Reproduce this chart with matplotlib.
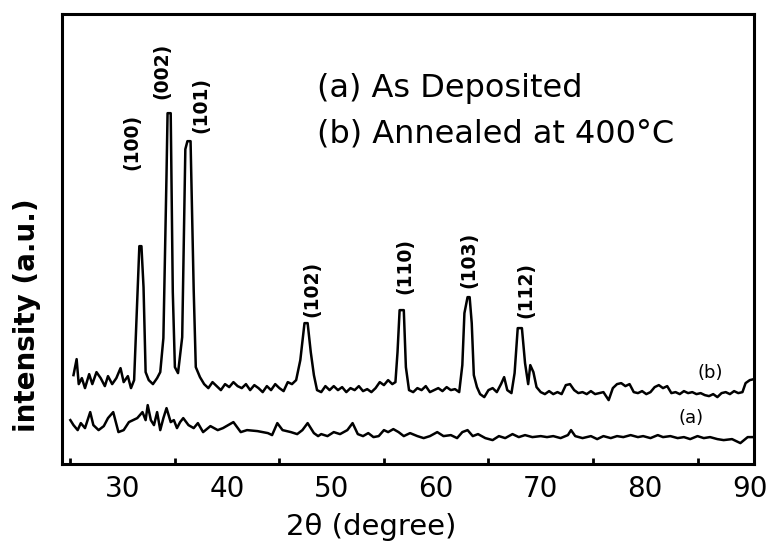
import matplotlib.pyplot as plt

######## XRD data #############################

# (b) annealed at 400 C
two_theta_b = [25.3, 25.6, 25.8, 26.1, 26.4, 26.8, 27.1, 27.5, 27.9, 28.3, 28.6, 29.0, 29.4, 29.8,
               30.1, 30.5, 30.8, 31.1, 31.4, 31.6, 31.8, 32.0, 32.2, 32.5, 32.9, 33.3, 33.6, 33.9,
               34.2, 34.3, 34.6, 34.8, 35.0, 35.3, 35.7, 36.0, 36.2, 36.5, 36.8, 37.0, 37.4, 37.8,
               38.2, 38.6, 39.0, 39.4, 39.8, 40.2, 40.6, 41.0, 41.4, 41.8, 42.2, 42.6, 43.0, 43.4,
               43.8, 44.2, 44.6, 45.0, 45.4, 45.8, 46.2, 46.6, 47.0, 47.4, 47.7, 48.0, 48.3, 48.6,
               49.0, 49.4, 49.8, 50.2, 50.6, 51.0, 51.4, 51.8, 52.2, 52.6, 53.0, 53.4, 53.8, 54.2,
               54.6, 55.0, 55.4, 55.8, 56.1, 56.3, 56.5, 56.9, 57.1, 57.4, 57.8, 58.2, 58.6, 59.0,
               59.4, 59.8, 60.2, 60.6, 61.0, 61.4, 61.8, 62.2, 62.5, 62.7, 63.0, 63.2, 63.4, 63.6,
               63.9, 64.2, 64.6, 65.0, 65.4, 65.8, 66.2, 66.5, 66.8, 67.2, 67.5, 67.8, 68.2, 68.5,
               68.8, 69.0, 69.3, 69.6, 70.0, 70.4, 70.8, 71.2, 71.6, 72.0, 72.4, 72.8, 73.2, 73.6,
               74.0, 74.4, 74.8, 75.2, 75.6, 76.0, 76.5, 76.9, 77.3, 77.7, 78.1, 78.5, 78.9, 79.3,
               79.7, 80.1, 80.5, 80.9, 81.3, 81.7, 82.1, 82.5, 82.9, 83.3, 83.7, 84.1, 84.5, 84.9,
               85.3, 85.7, 86.1, 86.5, 86.9, 87.3, 87.7, 88.1, 88.5, 88.9, 89.3, 89.6, 90.0, 90.4]
intensity_b = [89, 105, 80, 86, 76, 90, 80, 92, 86, 78, 88, 80, 86, 96,
               82, 88, 76, 84, 164, 218, 218, 177, 92, 84, 80, 86, 92, 126,
               290, 351, 351, 172, 97, 91, 127, 315, 323, 323, 174, 97, 87, 80,
               76, 82, 78, 74, 80, 77, 82, 78, 76, 80, 74, 79, 76, 72,
               78, 74, 80, 76, 73, 82, 80, 84, 104, 141, 141, 112, 89, 74,
               72, 78, 74, 78, 74, 77, 72, 76, 74, 78, 73, 75, 72, 76,
               82, 79, 84, 80, 82, 112, 154, 154, 97, 74, 72, 76, 74, 78,
               72, 74, 76, 73, 77, 74, 75, 72, 99, 151, 167, 167, 141, 89,
               77, 70, 67, 74, 76, 72, 80, 87, 74, 71, 91, 136, 136, 101,
               80, 99, 92, 77, 72, 70, 73, 70, 72, 70, 79, 80, 74, 71,
               72, 70, 73, 70, 71, 72, 64, 76, 80, 81, 78, 80, 72, 71,
               73, 70, 72, 77, 79, 76, 78, 71, 72, 70, 73, 71, 72, 70,
               71, 69, 68, 70, 67, 71, 72, 70, 73, 71, 72, 81, 84, 85]

# (a) as deposited
two_theta_a = [25.0, 25.3, 25.7, 26.0, 26.4, 26.9, 27.2, 27.7, 28.2, 28.6, 29.1, 29.5, 29.6, 30.1,
               30.6, 31.0, 31.4, 31.9, 32.2, 32.4, 32.7, 33.0, 33.3, 33.6, 33.9, 34.2, 34.6, 34.9,
               35.2, 35.5, 35.8, 36.3, 36.8, 37.2, 37.7, 38.4, 39.1, 39.6, 40.6, 41.3, 41.9, 42.9,
               43.9, 44.3, 44.8, 45.3, 46.1, 46.7, 47.2, 47.7, 48.3, 48.7, 49.0, 49.6, 50.2, 50.8,
               51.5, 52.0, 52.5, 53.0, 53.5, 54.0, 54.5, 55.0, 55.4, 55.9, 56.4, 56.9, 57.5, 58.2,
               58.8, 59.4, 60.1, 60.7, 61.4, 62.0, 62.5, 63.0, 63.5, 64.0, 64.7, 65.4, 66.0, 66.6,
               67.3, 67.9, 68.5, 69.2, 70.0, 70.6, 71.2, 71.9, 72.6, 72.9, 73.3, 74.0, 74.8, 75.4,
               76.0, 76.7, 77.3, 77.9, 78.6, 79.3, 79.8, 80.5, 81.2, 81.7, 82.4, 83.1, 83.7, 84.3,
               85.0, 85.6, 86.2, 86.9, 87.5, 88.3, 89.1, 89.8, 90.4]
intensity_a = [44, 39, 34, 41, 36, 52, 39, 34, 38, 46, 52, 36, 32, 34,
               42, 44, 46, 52, 44, 59, 44, 39, 52, 34, 46, 56, 42, 44,
               36, 42, 46, 39, 36, 41, 32, 38, 34, 36, 42, 32, 34, 33,
               31, 29, 41, 34, 32, 30, 34, 41, 31, 28, 30, 28, 32, 30,
               34, 41, 30, 28, 31, 27, 28, 34, 32, 35, 32, 28, 31, 28,
               26, 28, 32, 28, 29, 26, 32, 34, 28, 30, 26, 24, 28, 26,
               30, 27, 29, 27, 28, 27, 28, 26, 29, 34, 28, 26, 28, 25,
               28, 26, 28, 27, 29, 27, 28, 26, 29, 27, 28, 26, 27, 25,
               28, 26, 27, 25, 24, 25, 21, 27, 27]

peak_labels = ["(100)", "(002)", "(101)", "(102)", "(110)", "(103)", "(112)"]
x_ticks = [30, 40, 50, 60, 70, 80, 90]

######## plot #########

fig = plt.figure(figsize=(7.74, 5.46), dpi=100)
ax = fig.add_axes([0.0801, 0.150, 0.894, 0.824])

ax.plot(two_theta_b, intensity_b, color="black", lw=1.8)
ax.plot(two_theta_a, intensity_a, color="black", lw=1.8)

ax.set_xlim(24.2, 90.4)
ax.set_ylim(0, 450)

# labels above the peaks (x in degree, y in plot units)
label_pos = [(30.84, 322), (33.80, 393), (37.44, 359), (48.06, 175),
             (56.96, 198), (63.09, 204), (68.54, 174)]
for lab, (px, py) in zip(peak_labels, label_pos):
	ax.text(px, py, lab, rotation=90, ha="center", va="center",
	        fontsize=13.5, fontweight="bold")

ax.text(86.2, 91, "(b)", ha="center", va="center", fontsize=13)
ax.text(84.4, 46, "(a)", ha="center", va="center", fontsize=13)

ax.set_xticks(x_ticks)
ax.set_xticks([25, 35, 45, 55, 65, 75, 85], minor=True)
ax.tick_params(axis="x", which="major", length=0, pad=8, labelsize=20)
ax.tick_params(axis="x", which="minor", direction="in", length=4, width=2)
ax.set_yticks([])
for s in ax.spines.values():
	s.set_linewidth(2.2)

fig.text(371 / 774, 1 - 527 / 546, "2θ (degree)", ha="center", va="center", fontsize=21)
fig.text(27 / 774, 1 - 315 / 546, "intensity (a.u.)", rotation=90, ha="center",
         va="center", fontsize=20, fontweight="bold")

fig.text(317 / 774, 1 - 88 / 546, "(a) As Deposited", ha="left", va="center", fontsize=23)
fig.text(317 / 774, 1 - 134 / 546, "(b) Annealed at 400°C", ha="left", va="center", fontsize=23)

fig.savefig("out.png", dpi=100)
